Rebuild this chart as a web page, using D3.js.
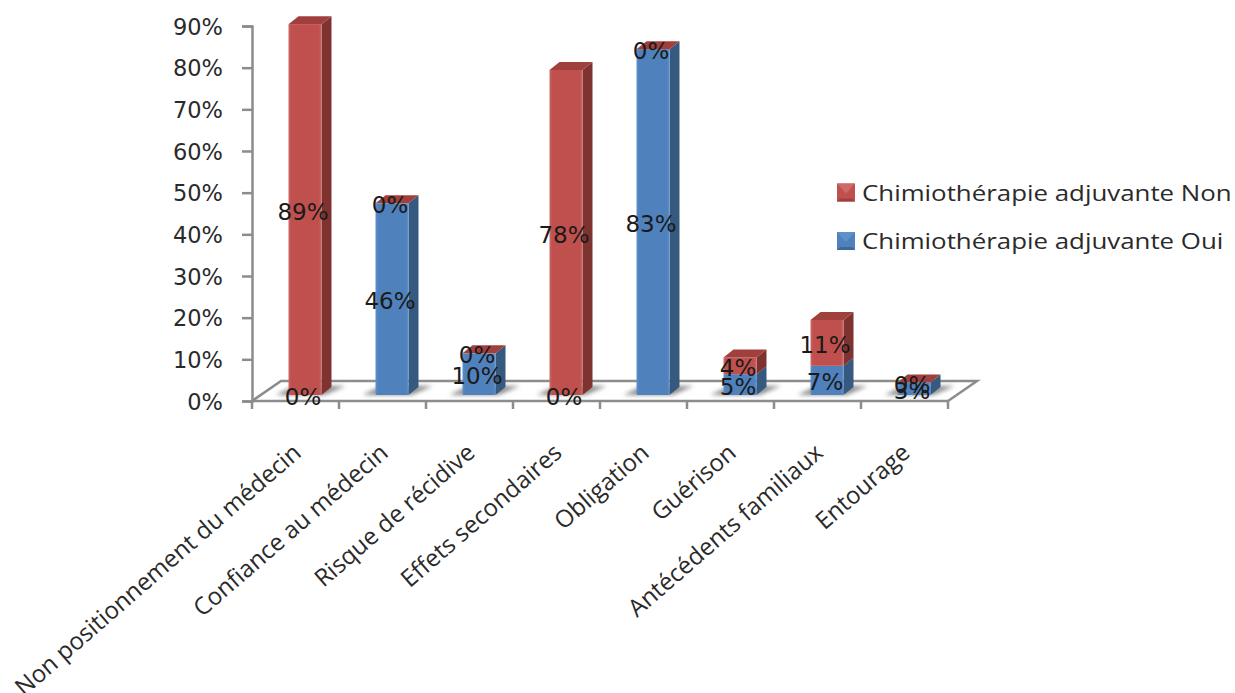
<!DOCTYPE html>
<html lang="fr">
<head>
<meta charset="utf-8">
<title>Chimiothérapie adjuvante</title>
<script src="https://cdn.jsdelivr.net/npm/d3@7/dist/d3.min.js"></script>
<style>
html, body { margin: 0; padding: 0; background: #fff; }
svg { display: block; }
</style>
</head>
<body>
<svg id="chart" width="1235" height="693"></svg>
<script>
// Reasons for accepting or refusing adjuvant chemotherapy, in percent.
const categories = [
  "Non positionnement du médecin", "Confiance au médecin", "Risque de récidive",
  "Effets secondaires", "Obligation", "Guérison", "Antécédents familiaux", "Entourage"
];
const seriesOui = [0, 46, 10, 0, 83, 5, 7, 3];
const seriesNon = [89, 0, 0, 78, 0, 4, 11, 0];
const seriesNames = ["Chimiothérapie adjuvante Non", "Chimiothérapie adjuvante Oui"];
const yTicks = [0, 10, 20, 30, 40, 50, 60, 70, 80, 90];

const plot = { left: 252, right: 948, top: 26, bottom: 401 };
const floorDepth = { dx: 29, dy: -20 };     // full depth of the chart floor
const barInset = { dx: 9.5, dy: -6 };       // bars sit part way back on the floor
const barDepth = { dx: 10, dy: -8 };        // depth of each 3D bar
const BAR_W = 33, STEP = (plot.right - plot.left) / categories.length;

const svg = d3.select("#chart");
const defs = svg.append("defs");

const palette = {
  Non: { face: "#c0504d", edge: "#cc6a67", side: "#7e3331", top: "#a03f3c" },
  Oui: { face: "#4f81bd", edge: "#5f90ca", side: "#35597f", top: "#3f6797" }
};

for (const key of Object.keys(palette)) {
  const g = defs.append("linearGradient").attr("id", "face" + key);
  [[0, palette[key].edge], [0.08, palette[key].face], [0.92, palette[key].face], [1, palette[key].edge]]
    .forEach(([o, c]) => g.append("stop").attr("offset", o).attr("stop-color", c));
}
defs.append("filter").attr("id", "soft").attr("x", "-30%").attr("y", "-60%").attr("width", "160%").attr("height", "220%")
  .append("feGaussianBlur").attr("stdDeviation", 2);

const x = d3.scaleBand().domain(categories).range([plot.left, plot.right])
  .paddingInner(1 - BAR_W / STEP).paddingOuter((1 - BAR_W / STEP) / 2);
const y = d3.scaleLinear().domain([0, 90]).range([plot.bottom, plot.top]);

const AXIS = "#8c8c8c";
const TEXT = "#2a2a2a";
const labelFont = "'DejaVu Sans', Verdana, sans-serif";
const catFont = "'Open Sans', 'Noto Sans', sans-serif";

// Floor of the 3D plot
const floor = svg.append("g").attr("fill", "none").attr("stroke", AXIS).attr("stroke-width", 2.5);
floor.append("path").attr("d", d3.line()([
  [plot.left, plot.bottom],
  [plot.left + floorDepth.dx, plot.bottom + floorDepth.dy],
  [plot.right + floorDepth.dx, plot.bottom + floorDepth.dy],
  [plot.right, plot.bottom]
]));

// Value axis
const yAxis = svg.append("g").attr("transform", `translate(${plot.left},0)`)
  .call(d3.axisLeft(y).tickValues(yTicks).tickFormat(d => d + "%").tickSize(10).tickPadding(19));
yAxis.selectAll("path, line").attr("stroke", AXIS).attr("stroke-width", 2.5);
yAxis.selectAll("text").attr("font-family", labelFont).attr("font-size", 22.5).attr("fill", TEXT)
  .attr("y", 1);

// Category axis: ticks fall between the categories
const xAxisLine = svg.append("g").attr("stroke", AXIS).attr("stroke-width", 2.5);
xAxisLine.append("line").attr("x1", plot.left).attr("x2", plot.right).attr("y1", plot.bottom).attr("y2", plot.bottom);
xAxisLine.selectAll("line.tick").data(d3.range(categories.length + 1)).join("line").attr("class", "tick")
  .attr("x1", i => plot.left + i * STEP).attr("x2", i => plot.left + i * STEP)
  .attr("y1", plot.bottom).attr("y2", plot.bottom + 8);

svg.append("g").selectAll("text").data(categories).join("text")
  .attr("transform", d => `translate(${x(d) + BAR_W / 2 + 7},${plot.bottom + 54}) rotate(-41)`)
  .attr("text-anchor", "end")
  .attr("font-family", catFont).attr("font-size", 24).attr("fill", TEXT)
  .text(d => d);

// Stack Oui under Non
const rows = categories.map((c, i) => ({ c, Oui: seriesOui[i], Non: seriesNon[i] }));
const stacked = rows.map(r => ({
  c: r.c, Oui: r.Oui, Non: r.Non,
  x0: x(r.c) + barInset.dx,
  x1: x(r.c) + barInset.dx + x.bandwidth(),
  total: r.Oui + r.Non
}));
const py = v => y(v) + barInset.dy;
const line = d3.line();

// Shadows cast on the floor
svg.append("g").attr("filter", "url(#soft)").selectAll("path").data(stacked).join("path")
  .attr("fill", "#6f6f6f").attr("opacity", 0.8)
  .attr("d", d => line([
    [d.x0 - 13, py(0)], [d.x1 + 3, py(0)],
    [d.x1 + barDepth.dx + 14, py(0) + barDepth.dy - 1], [d.x0 + 6, py(0) + barDepth.dy - 1]
  ]) + "Z");

// One box segment of a stacked bar
function segment(g, d, from, to, key) {
  if (to <= from) return;
  const c = palette[key];
  g.append("path").attr("fill", c.side).attr("d", line([
    [d.x1, py(from)], [d.x1 + barDepth.dx, py(from) + barDepth.dy],
    [d.x1 + barDepth.dx, py(to) + barDepth.dy], [d.x1, py(to)]
  ]) + "Z");
  g.append("rect").attr("fill", `url(#face${key})`)
    .attr("x", d.x0).attr("width", d.x1 - d.x0)
    .attr("y", py(to)).attr("height", py(from) - py(to));
}

const bars = svg.append("g");
stacked.forEach(d => {
  const g = bars.append("g");
  segment(g, d, 0, d.Oui, "Oui");
  segment(g, d, d.Oui, d.total, "Non");
  // The top face belongs to the upper series, even when its value is zero
  g.append("path").attr("fill", palette.Non.top).attr("d", line([
    [d.x0, py(d.total)], [d.x1, py(d.total)],
    [d.x1 + barDepth.dx, py(d.total) + barDepth.dy],
    [d.x0 + barDepth.dx, py(d.total) + barDepth.dy]
  ]) + "Z");
});

// Data labels, centred on each segment
const labels = svg.append("g").attr("font-family", labelFont).attr("font-size", 23)
  .attr("fill", "#1a1a1a").attr("text-anchor", "middle").attr("dominant-baseline", "central");
stacked.forEach(d => {
  const cx = (d.x0 + d.x1) / 2 - 2;
  labels.append("text").attr("x", cx).attr("y", py(d.Oui / 2) + 2).text(d.Oui + "%");
  labels.append("text").attr("x", cx).attr("y", py(d.Oui + d.Non / 2) + 2).text(d.Non + "%");
});

// Legend: text is widened horizontally
const legendKeys = ["Non", "Oui"];
const legendRow = d3.scalePoint().domain(legendKeys).range([192.5, 241]);
const legend = svg.append("g");
legendKeys.forEach((k, i) => {
  const cy = legendRow(k), c = palette[k], s = 9;
  const g = legend.append("g").attr("transform", `translate(846,${cy})`);
  g.append("rect").attr("x", -s).attr("y", -s).attr("width", 2 * s).attr("height", 2 * s).attr("fill", c.face);
  g.append("path").attr("fill", c.edge).attr("d", line([[-s, -s], [s, -s], [0, 1]]) + "Z");
  g.append("path").attr("fill", c.top).attr("d", line([[-s, s], [s, s], [s - 3, s - 3], [-s + 3, s - 3]]) + "Z");
  legend.append("text").attr("transform", `translate(862,${cy + 8}) scale(1.175,1)`)
    .attr("font-family", catFont).attr("font-size", 22).attr("fill", TEXT)
    .text(seriesNames[i]);
});
</script>
</body>
</html>
